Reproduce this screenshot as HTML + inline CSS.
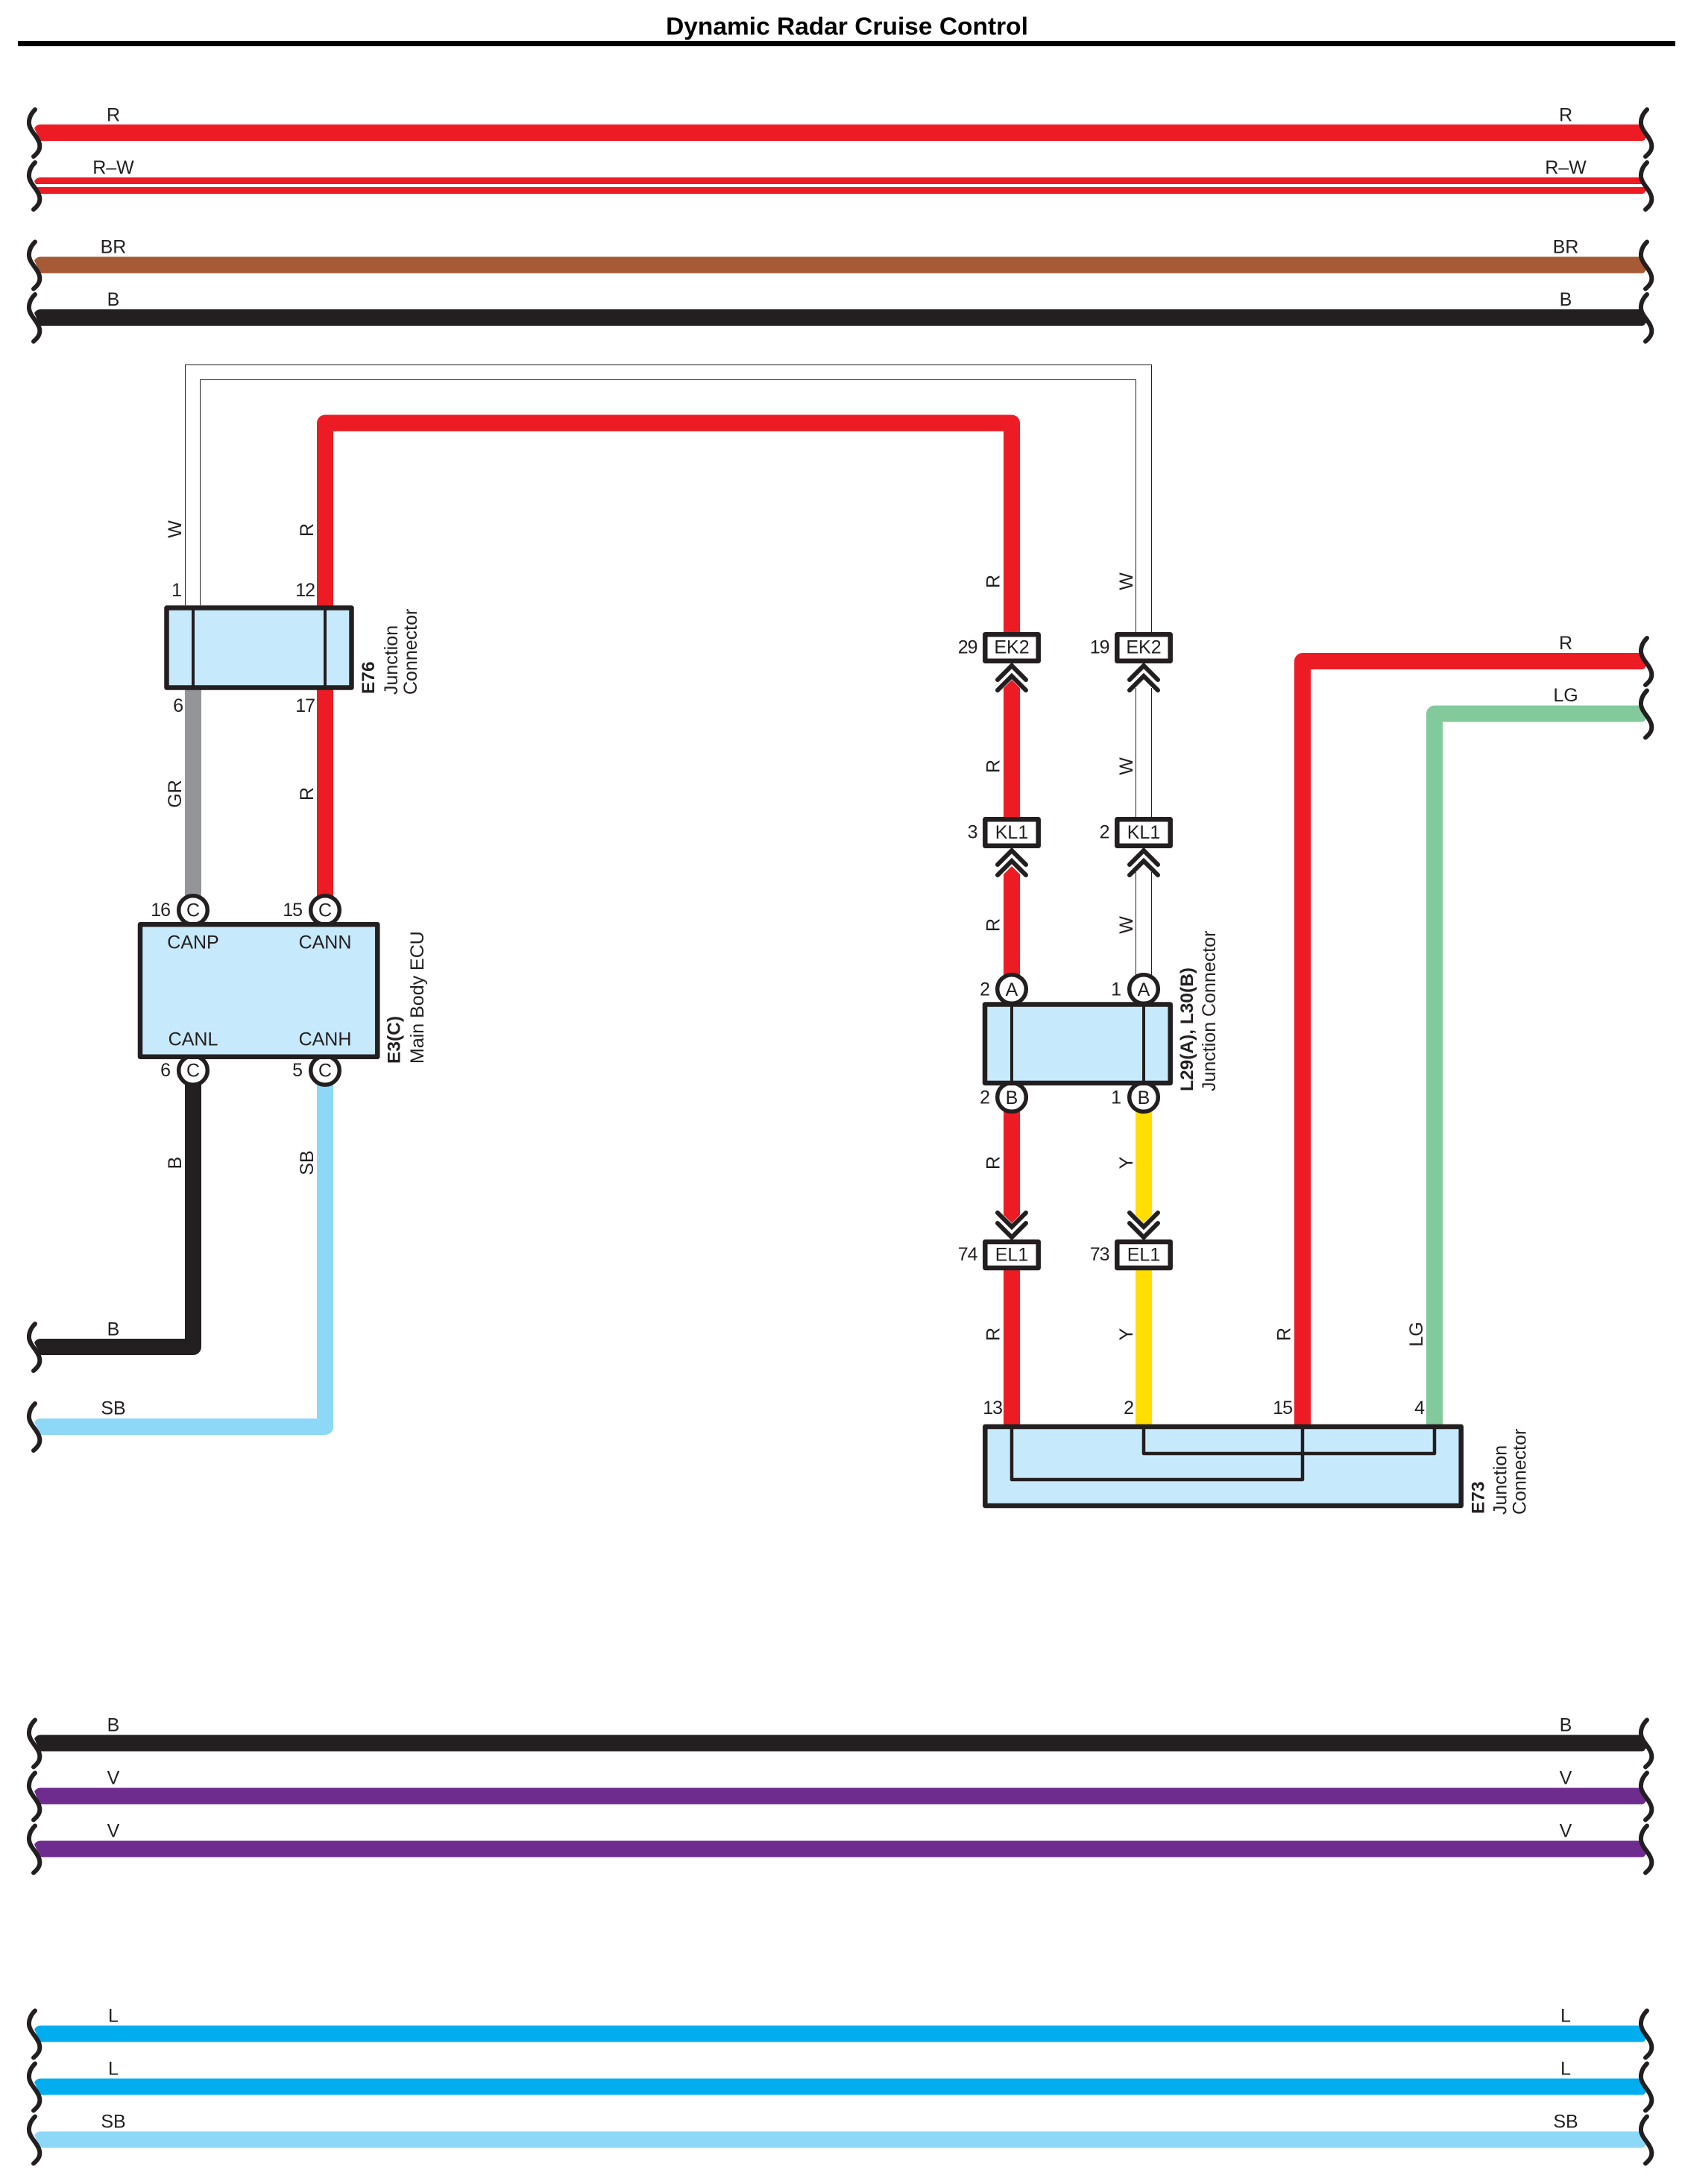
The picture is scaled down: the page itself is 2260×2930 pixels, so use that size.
<!DOCTYPE html>
<html><head><meta charset="utf-8"><title>Dynamic Radar Cruise Control</title>
<style>
html,body{margin:0;padding:0;background:#fff}
svg{display:block}
text{font-family:"Liberation Sans",Arial,sans-serif;font-size:25px;fill:#231f20}
.b{font-weight:bold;font-size:24.5px}
.m{text-anchor:middle}
.e{text-anchor:end}
.n{text-anchor:end;letter-spacing:-1px}
.bx{fill:#c7e9fc;stroke:#231f20;stroke-width:6.5;stroke-linejoin:round}
.tg{fill:#fff;stroke:#231f20;stroke-width:6.5;stroke-linejoin:round}
.c{fill:#fff;stroke:#231f20;stroke-width:5.5}
.ln{fill:none;stroke:#231f20;stroke-width:4.5;stroke-linejoin:round}
.ch{fill:none;stroke:#231f20;stroke-width:6;stroke-linecap:round;stroke-linejoin:miter}
.wr{fill:none;stroke-width:22;stroke-linejoin:round}
.th{fill:none;stroke:#231f20;stroke-width:1}
</style></head>
<body>
<svg xmlns="http://www.w3.org/2000/svg" width="2260" height="2930" viewBox="0 0 2260 2930">
<defs>
<path id="sq" d="M47,-31 C41,-25 38.500,-19 39,-12 C40,-2 51,5 53,15 C54.500,22 51,27 45,32" fill="none" stroke="#231f20" stroke-width="6" stroke-linecap="round"/>
<path id="wf" d="M54,-11 Q49,-11 46,-6 L54,11 H2202 Q2206,11 2208,6 L2200,-11 Z"/>
<path id="wl" d="M54,-11 Q49,-11 46,-6 L54,11 H100 V-11 Z"/>
<path id="wrr" d="M2100,-11 V11 H2202 Q2206,11 2208,6 L2200,-11 Z"/>
</defs>
<rect width="2260" height="2930" fill="#fff"/>

<!-- title -->
<text x="1136" y="46.500" class="m" style="font-weight:bold;font-size:33.500px;fill:#000">Dynamic Radar Cruise Control</text>
<rect x="24" y="55" width="2223" height="7" fill="#000"/>

<!-- top bus -->
<use href="#wf" y="178" fill="#ed1c24"/>
<use href="#wf" y="249" fill="#ed1c24"/>
<rect x="30" y="247" width="2200" height="4" fill="#fff"/>
<use href="#wf" y="355.500" fill="#a65a35"/>
<use href="#wf" y="426" fill="#231f20"/>

<!-- bottom buses -->
<use href="#wf" y="2338.500" fill="#231f20"/>
<use href="#wf" y="2409.500" fill="#6e2c8f"/>
<use href="#wf" y="2480.500" fill="#6e2c8f"/>
<use href="#wf" y="2728.500" fill="#00aeef"/>
<use href="#wf" y="2799.500" fill="#00aeef"/>
<use href="#wf" y="2870.500" fill="#8dd7f7"/>

<!-- W twin wires -->
<path class="th" d="M248.500,812 V489.500 H1544.500 V848"/>
<path class="th" d="M268.500,812 V509.500 H1523.500 V848"/>
<path class="th" d="M1523.500,923 V1096 M1544.500,923 V1096"/>
<path class="th" d="M1523.500,1170 V1310 M1544.500,1170 V1310"/>

<!-- coloured wires -->
<path class="wr" stroke="#ed1c24" d="M436,815 V567.500 H1357 V850"/>
<path class="wr" stroke="#939598" d="M259,925 V1205"/>
<path class="wr" stroke="#ed1c24" d="M436,925 V1205"/>
<path class="wr" stroke="#231f20" d="M259,1450 V1807 H100"/>
<use href="#wl" y="1807" fill="#231f20"/>
<path class="wr" stroke="#8dd7f7" d="M436,1450 V1914 H100"/>
<use href="#wl" y="1914" fill="#8dd7f7"/>

<polygon fill="#ed1c24" points="1346,923 1357,912 1368,923 1368,1098 1346,1098"/>
<polygon fill="#ed1c24" points="1346,1173 1357,1162 1368,1173 1368,1312 1346,1312"/>
<polygon fill="#ed1c24" points="1346,1488 1368,1488 1368,1630 1357,1641 1346,1630"/>
<polygon fill="#ffde00" points="1523,1488 1545,1488 1545,1630 1534,1641 1523,1630"/>
<rect x="1346" y="1698" width="22" height="216" fill="#ed1c24"/>
<rect x="1523" y="1698" width="22" height="216" fill="#ffde00"/>

<path class="wr" stroke="#ed1c24" d="M1747,1914 V887 H2150"/>
<use href="#wrr" y="887" fill="#ed1c24"/>
<path class="wr" stroke="#82ca9c" d="M1924,1914 V957.500 H2150"/>
<use href="#wrr" y="957.500" fill="#82ca9c"/>

<!-- squiggles left -->
<use href="#sq" y="178"/><use href="#sq" y="249"/><use href="#sq" y="355.500"/><use href="#sq" y="426"/>
<use href="#sq" y="1807"/><use href="#sq" y="1914"/>
<use href="#sq" y="2338.500"/><use href="#sq" y="2409.500"/><use href="#sq" y="2480.500"/>
<use href="#sq" y="2728.500"/><use href="#sq" y="2799.500"/><use href="#sq" y="2870.500"/>
<!-- squiggles right -->
<use href="#sq" x="2162" y="178"/><use href="#sq" x="2162" y="249"/><use href="#sq" x="2162" y="355.500"/><use href="#sq" x="2162" y="426"/>
<use href="#sq" x="2162" y="887"/><use href="#sq" x="2162" y="957.500"/>
<use href="#sq" x="2162" y="2338.500"/><use href="#sq" x="2162" y="2409.500"/><use href="#sq" x="2162" y="2480.500"/>
<use href="#sq" x="2162" y="2728.500"/><use href="#sq" x="2162" y="2799.500"/><use href="#sq" x="2162" y="2870.500"/>

<!-- bus labels left -->
<text x="152" y="162.500" class="m">R</text>
<text x="152" y="233" class="m">R–W</text>
<text x="152" y="339.500" class="m">BR</text>
<text x="152" y="410" class="m">B</text>
<text x="152" y="1791.500" class="m">B</text>
<text x="152" y="1897.500" class="m">SB</text>
<text x="152" y="2322.500" class="m">B</text>
<text x="152" y="2393.500" class="m">V</text>
<text x="152" y="2464.500" class="m">V</text>
<text x="152" y="2712.500" class="m">L</text>
<text x="152" y="2783.500" class="m">L</text>
<text x="152" y="2854.500" class="m">SB</text>
<!-- bus labels right -->
<text x="2100" y="162.500" class="m">R</text>
<text x="2100" y="233" class="m">R–W</text>
<text x="2100" y="339.500" class="m">BR</text>
<text x="2100" y="410" class="m">B</text>
<text x="2100" y="871" class="m">R</text>
<text x="2100" y="941" class="m">LG</text>
<text x="2100" y="2322.500" class="m">B</text>
<text x="2100" y="2393.500" class="m">V</text>
<text x="2100" y="2464.500" class="m">V</text>
<text x="2100" y="2712.500" class="m">L</text>
<text x="2100" y="2783.500" class="m">L</text>
<text x="2100" y="2854.500" class="m">SB</text>

<!-- E76 -->
<rect class="bx" x="223.500" y="815.500" width="248" height="107"/>
<path d="M259,815 V923 M436,815 V923" stroke="#231f20" stroke-width="4" fill="none"/>
<text x="243" y="800" class="n">1</text>
<text x="422" y="800" class="n">12</text>
<text x="245" y="955" class="n">6</text>
<text x="422" y="955" class="n">17</text>
<text transform="translate(243,710) rotate(-90)" class="m">W</text>
<text transform="translate(420,711) rotate(-90)" class="m">R</text>
<text transform="translate(243,1065) rotate(-90)" class="m">GR</text>
<text transform="translate(420,1065) rotate(-90)" class="m">R</text>
<text transform="translate(502,931) rotate(-90)" class="b">E76</text>
<text transform="translate(533,932) rotate(-90)">Junction</text>
<text transform="translate(559,932) rotate(-90)">Connector</text>

<!-- E3 -->
<circle class="c" cx="259" cy="1221" r="19.300"/>
<circle class="c" cx="436" cy="1221" r="19.300"/>
<circle class="c" cx="259" cy="1436" r="19.300"/>
<circle class="c" cx="436" cy="1436" r="19.300"/>
<rect class="bx" x="188" y="1240.300" width="318.300" height="177.400"/>
<text x="259" y="1229.500" class="m">C</text>
<text x="436" y="1229.500" class="m">C</text>
<text x="259" y="1444.500" class="m">C</text>
<text x="436" y="1444.500" class="m">C</text>
<text x="228" y="1229" class="n">16</text>
<text x="405" y="1229" class="n">15</text>
<text x="228" y="1444" class="n">6</text>
<text x="405" y="1444" class="n">5</text>
<text x="259" y="1272.500" class="m">CANP</text>
<text x="436" y="1272.500" class="m">CANN</text>
<text x="259" y="1402.500" class="m">CANL</text>
<text x="436" y="1402.500" class="m">CANH</text>
<text transform="translate(536.500,1427) rotate(-90)" class="b">E3(C)</text>
<text transform="translate(568,1427) rotate(-90)">Main Body ECU</text>
<text transform="translate(243,1560) rotate(-90)" class="m">B</text>
<text transform="translate(420,1560) rotate(-90)" class="m">SB</text>

<!-- EK2 -->
<rect class="tg" x="1321.300" y="851.300" width="71.400" height="35.400"/>
<rect class="tg" x="1498.300" y="851.300" width="71.400" height="35.400"/>
<text x="1357" y="876.500" class="m">EK2</text>
<text x="1534" y="876.500" class="m">EK2</text>
<text x="1310.500" y="876.500" class="n">29</text>
<text x="1487.500" y="876.500" class="n">19</text>
<path class="ch" d="M1338,912 L1357,893 L1376,912 M1338,926 L1357,907 L1376,926"/>
<path class="ch" d="M1515,912 L1534,893 L1553,912 M1515,926 L1534,907 L1553,926"/>

<!-- KL1 -->
<rect class="tg" x="1321.300" y="1099.300" width="71.400" height="35.400"/>
<rect class="tg" x="1498.300" y="1099.300" width="71.400" height="35.400"/>
<text x="1357" y="1125" class="m">KL1</text>
<text x="1534" y="1125" class="m">KL1</text>
<text x="1310.500" y="1124.500" class="n">3</text>
<text x="1487.500" y="1124.500" class="n">2</text>
<path class="ch" d="M1338,1160 L1357,1141 L1376,1160 M1338,1174 L1357,1155 L1376,1174"/>
<path class="ch" d="M1515,1160 L1534,1141 L1553,1160 M1515,1174 L1534,1155 L1553,1174"/>

<!-- wire labels right column -->
<text transform="translate(1340.500,780) rotate(-90)" class="m">R</text>
<text transform="translate(1519,780) rotate(-90)" class="m">W</text>
<text transform="translate(1340.500,1028) rotate(-90)" class="m">R</text>
<text transform="translate(1519,1028) rotate(-90)" class="m">W</text>
<text transform="translate(1340.500,1241) rotate(-90)" class="m">R</text>
<text transform="translate(1519,1241) rotate(-90)" class="m">W</text>
<text transform="translate(1340.500,1560) rotate(-90)" class="m">R</text>
<text transform="translate(1519,1560) rotate(-90)" class="m">Y</text>

<!-- L29/L30 -->
<circle class="c" cx="1357" cy="1327" r="19.300"/>
<circle class="c" cx="1534" cy="1327" r="19.300"/>
<circle class="c" cx="1357" cy="1472" r="19.300"/>
<circle class="c" cx="1534" cy="1472" r="19.300"/>
<rect class="bx" x="1321" y="1347.500" width="248.700" height="105.500"/>
<path d="M1357,1347 V1454 M1534,1347 V1454" stroke="#231f20" stroke-width="4" fill="none"/>
<text x="1357" y="1336" class="m">A</text>
<text x="1534" y="1336" class="m">A</text>
<text x="1357" y="1481" class="m">B</text>
<text x="1534" y="1481" class="m">B</text>
<text x="1327" y="1335.500" class="n">2</text>
<text x="1503" y="1335.500" class="n">1</text>
<text x="1327" y="1480.500" class="n">2</text>
<text x="1503" y="1480.500" class="n">1</text>
<text transform="translate(1600,1464) rotate(-90)" class="b">L29(A), L30(B)</text>
<text transform="translate(1630,1464) rotate(-90)">Junction Connector</text>

<!-- EL1 -->
<path class="ch" d="M1338,1627 L1357,1646 L1376,1627 M1338,1641 L1357,1660 L1376,1641"/>
<path class="ch" d="M1515,1627 L1534,1646 L1553,1627 M1515,1641 L1534,1660 L1553,1641"/>
<rect class="tg" x="1321.300" y="1666" width="71.400" height="35"/>
<rect class="tg" x="1498.300" y="1666" width="71.400" height="35"/>
<text x="1357" y="1691.500" class="m">EL1</text>
<text x="1534" y="1691.500" class="m">EL1</text>
<text x="1310.500" y="1691" class="n">74</text>
<text x="1487.500" y="1691" class="n">73</text>

<!-- E73 -->
<rect class="bx" x="1321.300" y="1914" width="638.400" height="106"/>
<path class="ln" d="M1534,1914 V1950 H1924 V1914"/>
<path class="ln" d="M1357,1914 V1985 H1747 V1914"/>
<text x="1344" y="1897" class="n">13</text>
<text x="1520" y="1897" class="n">2</text>
<text x="1733" y="1897" class="n">15</text>
<text x="1910" y="1897" class="n">4</text>
<text transform="translate(1340.500,1790) rotate(-90)" class="m">R</text>
<text transform="translate(1519,1790) rotate(-90)" class="m">Y</text>
<text transform="translate(1730.500,1790) rotate(-90)" class="m">R</text>
<text transform="translate(1908,1790) rotate(-90)" class="m">LG</text>
<text transform="translate(1990.500,2031) rotate(-90)" class="b">E73</text>
<text transform="translate(2020.500,2032) rotate(-90)">Junction</text>
<text transform="translate(2046.500,2032) rotate(-90)">Connector</text>
</svg>
</body></html>
